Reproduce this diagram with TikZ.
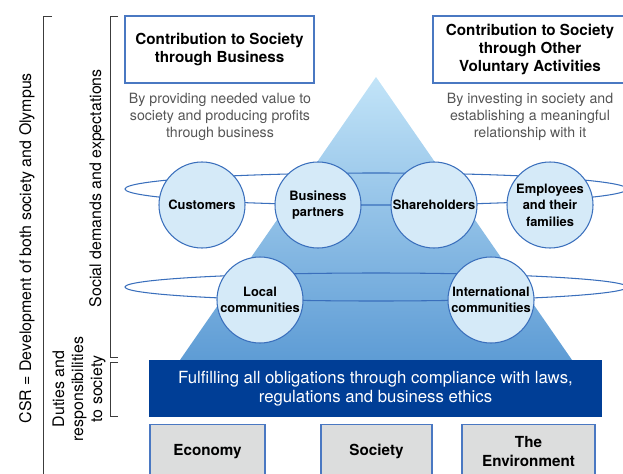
\documentclass[tikz,border=0pt]{standalone}
\usepackage{fontspec}
\setmainfont{TeX Gyre Heros}
\usetikzlibrary{
    positioning,
    calc
}
\definecolor{AzulBorda}{HTML}{4A78C2}
\definecolor{AzulLinha}{HTML}{3A6FBC}
\definecolor{AzulCirculo}{HTML}{D5EAF8}
\definecolor{AzulProfundo}{HTML}{003E96}
\definecolor{TopoTriangulo}{HTML}{C2E4F8}
\definecolor{BaseTriangulo}{HTML}{5E9CD5}
\definecolor{CinzaCaixa}{HTML}{DCDDDD}
\definecolor{CinzaTexto}{HTML}{555555}
\definecolor{CinzaChave}{HTML}{3C3C3C}
\definecolor{Branco}{HTML}{FFFFFF}

\begin{document}
\begin{tikzpicture}[
                x=0.03cm, y=-0.03cm,
                every node/.style={align=center},
                ator/.style={
                    circle,
                    draw=AzulLinha,
                    fill=AzulCirculo,
                    line width=0.9pt,
                    minimum size=2.58cm,
                    inner sep=0pt,
                    font=\fontsize{11}{14}\selectfont\bfseries
                },
                titulo/.style={
                    draw=AzulBorda,
                    fill=Branco,
                    line width=0.9pt,
                    minimum height=2.01cm,
                    font=\fontsize{13}{15.4}\selectfont\bfseries
                },
                pilar/.style={
                    draw=AzulBorda,
                    fill=CinzaCaixa,
                    line width=0.9pt,
                    minimum height=1.62cm,
                    font=\fontsize{13}{16}\selectfont\bfseries
                },
                lateral/.style={
                    rotate=90,
                    font=\fontsize{13.6}{16.2}\selectfont
                }
            ]

                \useasboundingbox (0,0) rectangle (623,473);


                \shade[top color=TopoTriangulo, bottom color=BaseTriangulo]
                    (376,77) -- (180,360) -- (572,360) -- cycle;

                \draw[AzulLinha, line width=0.9pt]
                    (376,189) ellipse [x radius=251, y radius=16];

                \draw[AzulLinha, line width=0.9pt]
                    (376,287) ellipse [x radius=251, y radius=14];


                \node[ator] (clientes) at (202,205) {Customers};

                \node[ator] (parceiros) at (318,205) {Business\\partners};

                \node[ator] (acionistas) at (434,205) {Shareholders};

                \node[ator] (empregados) at (550,205) {Employees\\and their\\families};

                \node[ator] (locais) at (260,300) {Local\\communities};

                \node[ator] (internacionais) at (491,300) {International\\communities};


                \node[
                    fill=AzulProfundo,
                    text=Branco,
                    minimum width=13.59cm,
                    minimum height=1.71cm,
                    font=\fontsize{14.3}{16.4}\selectfont
                ] (obrigacoes) at (375.5,388.5) {
                    Fulfilling all obligations through compliance with laws,\\
                    regulations and business ethics
                };


                \node[titulo, minimum width=5.67cm] (negocio) at (219.5,49.5) {
                    Contribution to Society\\
                    through Business
                };

                \node[titulo, minimum width=5.82cm] (voluntario) at (530,49.5) {
                    Contribution to Society\\
                    through Other\\
                    Voluntary Activities
                };

                \node[
                    text=CinzaTexto,
                    font=\fontsize{12.1}{14.5}\selectfont
                ] (valor) at (220,117) {
                    By providing needed value to\\
                    society and producing profits\\
                    through business
                };

                \node[
                    text=CinzaTexto,
                    font=\fontsize{12.1}{14.5}\selectfont
                ] (investimento) at (530,117) {
                    By investing in society and\\
                    establishing a meaningful\\
                    relationship with it
                };


                \node[pilar, minimum width=3.45cm] (economia) at (207.5,451.5) {Economy};

                \node[pilar, minimum width=3.33cm] (sociedade) at (376.5,451.5) {Society};

                \node[pilar, minimum width=3.99cm] (ambiente) at (528.5,451.5) {
                    The\\
                    Environment
                };


                \draw[CinzaChave, line width=0.8pt]
                    (52,16) -- (43,16) -- (43,476);

                \draw[CinzaChave, line width=0.8pt]
                    (118,16) -- (110,16) -- (110,357) -- (118,357);

                \draw[CinzaChave, line width=0.8pt]
                    (118,362) -- (110,362) -- (110,416) -- (118,416);

                \node[lateral] (csr) at (27,246) {
                    CSR = Development of both society and Olympus
                };

                \node[lateral] (demandas) at (97,186) {
                    Social demands and expectations
                };

                \node[lateral] (deveres) at (79,389) {
                    Duties and\\
                    responsibilities\\
                    to society
                };

            \end{tikzpicture}
\end{document}
